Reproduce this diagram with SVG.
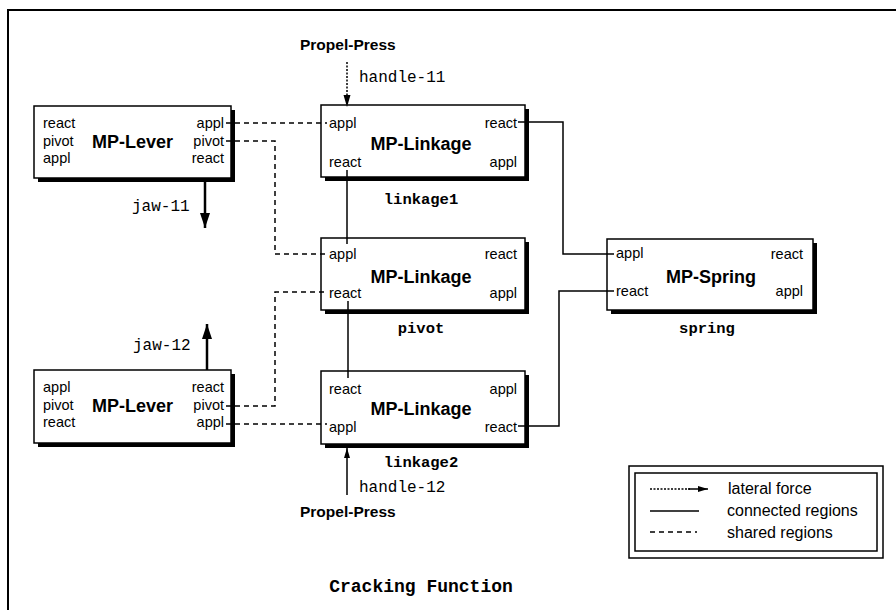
<svg xmlns="http://www.w3.org/2000/svg" width="896" height="610" viewBox="0 0 896 610">
  <style>
    .frame { fill: none; stroke: #000; stroke-width: 2; }
    .box { fill: #fff; stroke: #000; stroke-width: 1.5; }
    .shadow { fill: #000; }
    .port { font-family: "Liberation Sans", Arial, sans-serif; font-size: 14.5px; fill: #000; }
    .title { font-family: "Liberation Sans", Arial, sans-serif; font-size: 18px; font-weight: bold; fill: #000; }
    .agent { font-family: "Liberation Sans", Arial, sans-serif; font-size: 15.5px; font-weight: bold; fill: #000; }
    .name { font-family: "Liberation Mono", "Courier New", monospace; font-size: 15.5px; font-weight: bold; fill: #000; }
    .force { font-family: "Liberation Mono", "Courier New", monospace; font-size: 16px; fill: #000; }
    .caption { font-family: "Liberation Mono", "Courier New", monospace; font-size: 18px; font-weight: bold; fill: #000; }
    .legend { font-family: "Liberation Sans", Arial, sans-serif; font-size: 16px; fill: #000; }
    .connected { fill: none; stroke: #000; stroke-width: 1.5; }
    .shared { fill: none; stroke: #000; stroke-width: 1.5; stroke-dasharray: 5 4; }
    .lateral { fill: none; stroke: #000; stroke-width: 1.5; }
    .lateral-dotted { fill: none; stroke: #000; stroke-width: 1.5; stroke-dasharray: 2 1.5; }
    .jaw { fill: none; stroke: #000; stroke-width: 2.5; }
    .end { text-anchor: end; }
    .mid { text-anchor: middle; }
  </style>
  <defs>
    <marker id="head" viewBox="0 0 10 6" refX="10" refY="3" markerWidth="10" markerHeight="6" markerUnits="userSpaceOnUse" orient="auto">
      <path d="M0,0 L10,3 L0,6 Z" fill="#000"/>
    </marker>
    <marker id="jawhead" viewBox="0 0 15 10" refX="15" refY="5" markerWidth="15" markerHeight="10" markerUnits="userSpaceOnUse" orient="auto">
      <path d="M0,0 L15,5 L0,10 Z" fill="#000"/>
    </marker>
  </defs>

  <!-- page frame -->
  <path class="frame" d="M8,610 V10 H896"/>

  <!-- nodes -->
  <g id="lever1">
    <rect class="shadow" x="38" y="110" width="197" height="72"/>
    <rect class="box" x="34" y="106" width="197" height="72"/>
    <text class="port" x="43" y="128">react</text>
    <text class="port" x="43" y="146">pivot</text>
    <text class="port" x="43" y="163">appl</text>
    <text class="title" x="92" y="148">MP-Lever</text>
    <text class="port end" x="224" y="128">appl</text>
    <text class="port end" x="224" y="146">pivot</text>
    <text class="port end" x="224" y="163">react</text>
  </g>

  <g id="linkage1">
    <rect class="shadow" x="325" y="109" width="204" height="72"/>
    <rect class="box" x="321" y="105" width="204" height="72"/>
    <text class="port" x="329" y="128">appl</text>
    <text class="port" x="329" y="167">react</text>
    <text class="title mid" x="421" y="150">MP-Linkage</text>
    <text class="port end" x="517" y="128">react</text>
    <text class="port end" x="517" y="167">appl</text>
    <text class="name mid" x="421" y="204">linkage1</text>
  </g>

  <g id="pivot">
    <rect class="shadow" x="325" y="242" width="204" height="72"/>
    <rect class="box" x="321" y="238" width="204" height="72"/>
    <text class="port" x="329" y="259">appl</text>
    <text class="port" x="329" y="298">react</text>
    <text class="title mid" x="421" y="283">MP-Linkage</text>
    <text class="port end" x="517" y="259">react</text>
    <text class="port end" x="517" y="298">appl</text>
    <text class="name mid" x="421" y="333">pivot</text>
  </g>

  <g id="linkage2">
    <rect class="shadow" x="325" y="375" width="204" height="73"/>
    <rect class="box" x="321" y="371" width="204" height="73"/>
    <text class="port" x="329" y="394">react</text>
    <text class="port" x="329" y="432">appl</text>
    <text class="title mid" x="421" y="415">MP-Linkage</text>
    <text class="port end" x="517" y="394">appl</text>
    <text class="port end" x="517" y="432">react</text>
    <text class="name mid" x="421" y="467">linkage2</text>
  </g>

  <g id="spring">
    <rect class="shadow" x="611" y="243" width="206" height="71"/>
    <rect class="box" x="607" y="239" width="206" height="71"/>
    <text class="port" x="616" y="258">appl</text>
    <text class="port" x="616" y="296">react</text>
    <text class="title mid" x="711" y="283">MP-Spring</text>
    <text class="port end" x="803" y="259">react</text>
    <text class="port end" x="803" y="296">appl</text>
    <text class="name mid" x="707" y="333">spring</text>
  </g>

  <g id="lever2">
    <rect class="shadow" x="38" y="374" width="197" height="73"/>
    <rect class="box" x="34" y="370" width="197" height="73"/>
    <text class="port" x="43" y="392">appl</text>
    <text class="port" x="43" y="410">pivot</text>
    <text class="port" x="43" y="427">react</text>
    <text class="title" x="92" y="412">MP-Lever</text>
    <text class="port end" x="224" y="392">react</text>
    <text class="port end" x="224" y="410">pivot</text>
    <text class="port end" x="224" y="427">appl</text>
  </g>

  <g id="press-top">
    <text class="agent" x="300" y="50">Propel-Press</text>
    <text class="force" x="359" y="82">handle-11</text>
  </g>

  <g id="press-bottom">
    <text class="agent" x="300" y="517">Propel-Press</text>
    <text class="force" x="359" y="492">handle-12</text>
  </g>

  <g id="jaw-labels">
    <text class="force" x="132" y="211">jaw-11</text>
    <text class="force" x="133" y="350">jaw-12</text>
  </g>

  <!-- connectors -->
  <g id="connectors">
    <!-- connected regions -->
    <path class="connected" d="M518,122 H563 V254 H614"/>
    <path class="connected" d="M347,170 V244"/>
    <path class="connected" d="M348,301 V378"/>
    <path class="connected" d="M614,291 H559 V426 H518"/>
    <!-- shared regions -->
    <path class="shared" d="M226,123 H327"/>
    <path class="shared" d="M226,141 H275 V254 H327"/>
    <path class="shared" d="M226,406 H275 V292 H327"/>
    <path class="shared" d="M226,424 H327"/>
    <!-- lateral forces -->
    <path class="lateral-dotted" d="M347,62 V96"/>
    <path d="M343.5,95 L350.5,95 L347,107 Z" fill="#000"/>
    <path class="lateral" d="M347,495 V448" marker-end="url(#head)"/>
    <path class="jaw" d="M205,178 V228" marker-end="url(#jawhead)"/>
    <path class="jaw" d="M207,370 V324" marker-end="url(#jawhead)"/>
  </g>

  <!-- key -->
  <g id="legend">
    <rect x="629" y="466" width="254" height="92" fill="none" stroke="#000" stroke-width="1.5"/>
    <rect x="635" y="473" width="242" height="78" fill="none" stroke="#000" stroke-width="1.5"/>
    <path class="lateral-dotted" d="M650,489 H690"/>
    <path class="lateral" d="M688,489 H708" marker-end="url(#head)"/>
    <path class="connected" d="M650,511 H699"/>
    <path class="shared" d="M650,532 H697"/>
    <text class="legend" x="728" y="494">lateral force</text>
    <text class="legend" x="727" y="516">connected regions</text>
    <text class="legend" x="727" y="538">shared regions</text>
  </g>

  <text class="caption mid" x="421" y="592">Cracking Function</text>
</svg>
